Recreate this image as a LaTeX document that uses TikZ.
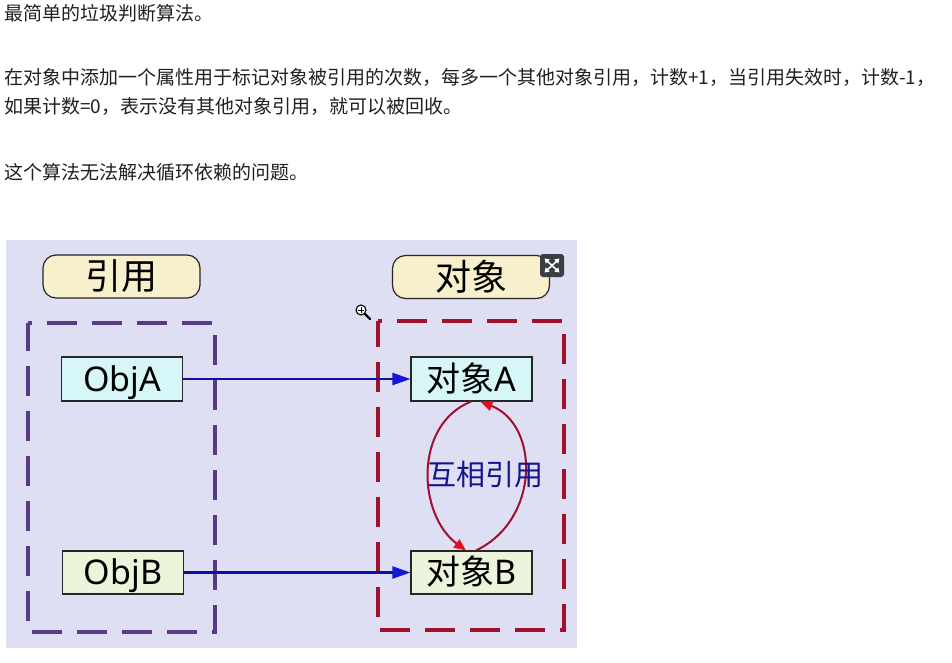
\documentclass[tikz,border=0pt]{standalone}
\usepackage{fontspec}
\setmainfont{Noto Sans CJK SC}
\newfontfamily\cjkf{Noto Sans CJK SC}
\newfontfamily\latinf{Noto Sans}
\usetikzlibrary{arrows.meta}
\definecolor{textgray}{RGB}{32,32,32}
\definecolor{panelbg}{RGB}{222,223,242}
\definecolor{lblfill}{RGB}{248,239,204}
\definecolor{cyanfill}{RGB}{214,246,248}
\definecolor{greenfill}{RGB}{237,244,220}
\definecolor{purpledash}{RGB}{90,58,136}
\definecolor{reddash}{RGB}{160,18,44}
\definecolor{lineblue}{RGB}{14,14,160}
\definecolor{tipblue}{RGB}{20,24,215}
\definecolor{loopred}{RGB}{160,16,48}
\definecolor{tipred}{RGB}{225,16,36}
\definecolor{navytext}{RGB}{20,20,140}
\definecolor{icondark}{RGB}{58,62,66}
\begin{document}
\begin{tikzpicture}[x=1pt,y=-1pt,
  toptext/.style={anchor=base west, inner sep=0pt, text=textgray, font=\cjkf\fontsize{19}{19}\selectfont},
  lbl/.style={draw=black!85, line width=1.2pt, rounded corners=13pt, fill=lblfill,
    minimum width=157pt, minimum height=43pt, inner sep=0pt,
    text height=26pt, text depth=0pt, font=\cjkf\fontsize{36}{36}\selectfont},
  objbox/.style={draw=black!85, line width=1.1pt, minimum width=121pt, minimum height=44pt,
    inner sep=0pt, text height=24.5pt, text depth=0pt, font=\latinf\fontsize{34}{34}\selectfont},
  dashbox/.style={line width=3.5pt, dash pattern=on 30pt off 15pt, dash phase=26pt},
  bluearr/.style={draw=lineblue, line width=2.2pt, -{Triangle[length=18pt,width=12pt,color=tipblue]}},
  loopline/.style={draw=loopred, line width=2pt, -{Triangle[length=12pt,width=10pt,color=tipred]}},
  mutual/.style={inner sep=0pt, text=navytext, text height=21pt, text depth=0pt, font=\cjkf\fontsize{29}{29}\selectfont}
]
\useasboundingbox (0,0) rectangle (952,662);
\fill[white] (0,0) rectangle (952,662);

% top text
\node[toptext] (t1) at (4,20) {最简单的垃圾判断算法。};
\node[toptext] (t2) at (4,84) {在对象中添加一个属性用于标记对象被引用的次数，每多一个其他对象引用，计数+1，当引用失效时，计数-1，};
\node[toptext] (t3) at (4,113) {如果计数=0，表示没有其他对象引用，就可以被回收。};
\node[toptext] (t4) at (4,179) {这个算法无法解决循环依赖的问题。};

% panel
\fill[panelbg] (6,240) rectangle (577,648);

% dashed groups
\draw[dashbox, purpledash] (28,323) -- (215,323) -- (215,632) -- (28,632) -- cycle;
\draw[dashbox, reddash] (378,321) -- (564,321) -- (564,630) -- (378,630) -- cycle;

% group labels
\node[lbl] (lref) at (121.5,276.5) {引用};
\node[lbl] (lobj) at (471,277) {对象};

% boxes
\node[objbox, fill=cyanfill] (oa) at (122,379) {ObjA};
\node[objbox, fill=greenfill, minimum height=43pt] (ob) at (123,572.5) {ObjB};
\node[objbox, fill=cyanfill] (ta) at (471.5,379) {{\cjkf 对象}A};
\node[objbox, fill=greenfill, minimum height=43pt] (tb) at (471.5,572.5) {{\cjkf 对象}B};

% references
\draw[bluearr] (oa) -- (ta);
\draw[bluearr] (ob) -- (tb);

% mutual reference loop
\draw[loopline] ([xshift=-0.5pt]ta.south) .. controls (413,425) and (418,515) .. ([xshift=-5.5pt]tb.north);
\draw[loopline] ([xshift=4.5pt]tb.north) .. controls (540,520) and (540,425) .. ([xshift=9pt]ta.south);
\node[mutual] (mtxt) at (485.5,474.5) {互相引用};

% expand icon
\fill[icondark, rounded corners=3pt] (540,254) rectangle (564,277);
\draw[white, line width=1.6pt, {Triangle[length=4.5pt,width=5.5pt]}-{Triangle[length=4.5pt,width=5.5pt]}] (544.5,258.5) -- (559.5,272.5);
\draw[white, line width=1.6pt, {Triangle[length=4.5pt,width=5.5pt]}-{Triangle[length=4.5pt,width=5.5pt]}] (559.5,258.5) -- (544.5,272.5);

% magnifier cursor
\draw[black, line width=2.4pt, line cap=round] (365,314) -- (370,319);
\filldraw[fill=white, draw=black, line width=1.1pt] (361,310) circle (5pt);
\draw[black, line width=1pt] (358,310) -- (364,310) (361,307) -- (361,313);
\end{tikzpicture}
\end{document}
